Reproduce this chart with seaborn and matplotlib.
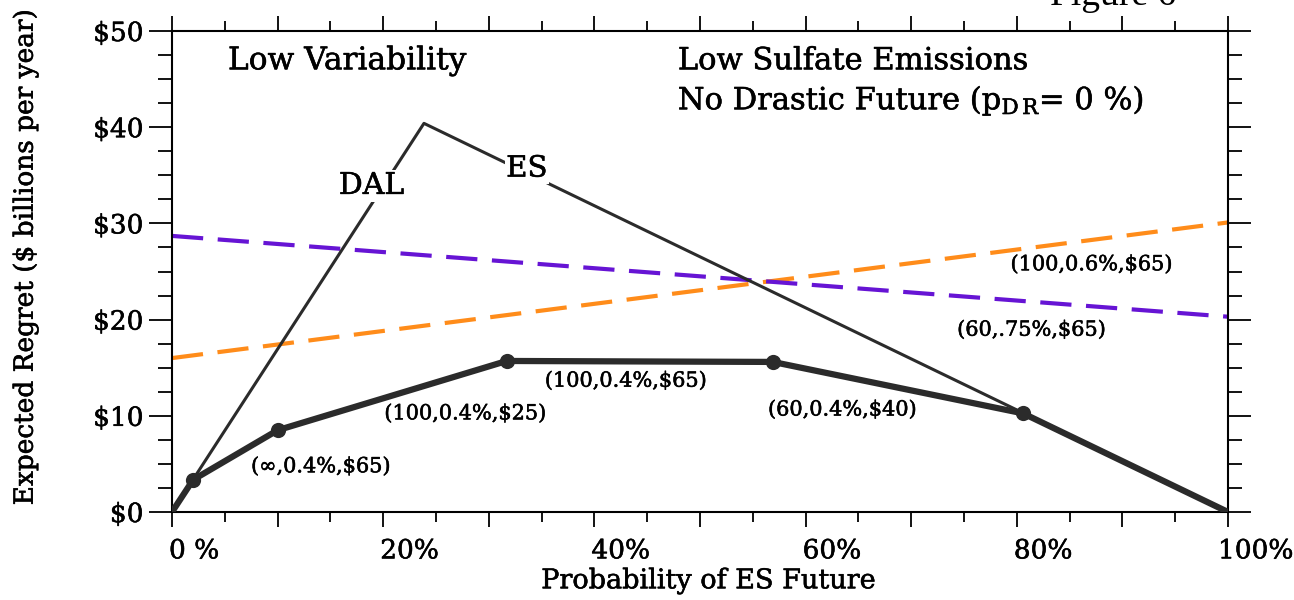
import numpy as np
import pandas as pd
import seaborn as sns
import matplotlib
matplotlib.use("Agg")
import matplotlib.pyplot as plt
import matplotlib.patheffects as pe
from matplotlib.ticker import FixedLocator, MultipleLocator
from matplotlib.transforms import ScaledTranslation

# ---------------- data ----------------
# thin "DAL / ES" regret triangle
tri_p = [0.0, 0.2386, 1.0]
tri_v = [0.0, 40.4, 0.0]

# thick optimal strategy curve (with markers on interior points)
opt_p = [0.0, 0.02, 0.10, 0.317, 0.569, 0.806, 1.0]
opt_v = [0.0, 3.35, 8.5, 15.7, 15.6, 10.25, 0.0]
mark_p = [0.02, 0.10, 0.317, 0.569, 0.806]
mark_v = [3.35, 8.5, 15.7, 15.6, 10.25]

# dashed strategies
purple_p = [0.0, 1.0]
purple_v = [28.7, 20.3]
orange_p = [0.0, 1.0]
orange_v = [16.0, 30.1]

x_ticks = [0.0, 0.1, 0.2, 0.3, 0.4, 0.5, 0.6, 0.7, 0.8, 0.9, 1.0]
x_labels = ["0 %", "", "20%", "", "40%", "", "60%", "", "80%", "", "100%"]
y_ticks = [0, 10, 20, 30, 40, 50]
y_labels = ["\\$0", "\\$10", "\\$20", "\\$30", "\\$40", "\\$50"]

strategy_labels = ["(\u221e,0.4%,\\$65)", "(100,0.4%,\\$25)", "(100,0.4%,\\$65)",
                   "(60,0.4%,\\$40)", "(100,0.6%,\\$65)", "(60,.75%,\\$65)"]
strategy_label_pos = [(0.141, 4.7), (0.278, 10.2), (0.430, 13.6),
                      (0.635, 10.6), (0.871, 25.7), (0.814, 18.9)]

# ---------------- style ----------------
sns.set_theme(style="white")
plt.rcParams["font.family"] = ["DejaVu Serif"]
plt.rcParams["mathtext.fontset"] = "dejavuserif"

fig = plt.figure(figsize=(12.94, 6.0), dpi=100)
ax = fig.add_axes([172 / 1294, 88 / 600, 1056 / 1294, 481 / 600])

dark = "#2b2b2b"
purple = "#6614d4"
orange = "#ff8c1a"
heavy = [pe.withStroke(linewidth=0.4, foreground="black")]

sns.lineplot(x=orange_p, y=orange_v, ax=ax, color=orange, lw=3.0,
             dashes=False, zorder=2)
ax.lines[-1].set_dashes([7.5, 3.5])
sns.lineplot(x=purple_p, y=purple_v, ax=ax, color=purple, lw=3.0,
             dashes=False, zorder=2)
ax.lines[-1].set_dashes([7.5, 3.5])
sns.lineplot(x=tri_p, y=tri_v, ax=ax, color=dark, lw=2.2, sort=False,
             estimator=None, zorder=3)
sns.lineplot(x=opt_p, y=opt_v, ax=ax, color=dark, lw=4.5, sort=False,
             estimator=None, zorder=4, solid_capstyle="round")
sns.scatterplot(x=mark_p, y=mark_v, ax=ax, color=dark, s=120,
                edgecolor=dark, linewidth=0, zorder=5)

ax.set_xlim(0, 1)
ax.set_ylim(0, 50)

# ticks
ax.xaxis.set_major_locator(FixedLocator(x_ticks))
ax.xaxis.set_minor_locator(MultipleLocator(0.05))
ax.yaxis.set_major_locator(FixedLocator(y_ticks))
ax.yaxis.set_minor_locator(MultipleLocator(2.5))
ax.set_xticklabels(x_labels)
ax.set_yticklabels(y_labels)

ax.tick_params(axis="both", which="both", direction="out", top=True,
               right=True, bottom=True, left=True, color="black", width=1.3,
               labelcolor="black")
ax.tick_params(axis="x", which="major", length=11, pad=8, labelsize=19)
ax.tick_params(axis="x", which="minor", length=7)
ax.tick_params(axis="y", which="major", length=16.5, pad=4, labelsize=19)
ax.tick_params(axis="y", which="minor", length=10)
xlabs = ax.get_xticklabels()
for i, lab in enumerate(xlabs):
    lab.set_ha("left")
    lab.set_path_effects(heavy)
    shift = -10 if i == len(xlabs) - 1 else -3
    lab.set_transform(lab.get_transform() +
                      ScaledTranslation(shift / 100, 0, fig.dpi_scale_trans))
for lab in ax.get_yticklabels():
    lab.set_path_effects(heavy)

for s in ax.spines.values():
    s.set_visible(True)
    s.set_color("black")
    s.set_linewidth(1.5)

ax.set_xlabel("Probability of ES Future", fontsize=19.5, color="black")
ax.set_ylabel("Expected Regret (\\$ billions per year)", fontsize=19,
              color="black")
ax.xaxis.set_label_coords(0.508, -0.143)
ax.xaxis.label.set_va("center")
ax.yaxis.set_label_coords(-0.139, 0.53)
ax.yaxis.label.set_va("center")
ax.xaxis.label.set_path_effects(heavy)
ax.yaxis.label.set_path_effects(heavy)

# titles inside plot
ax.text(0.053, 0.938, "Low Variability", transform=ax.transAxes,
        fontsize=22.5, va="center", ha="left", color="black",
        path_effects=heavy)
ax.text(0.479, 0.938, "Low Sulfate Emissions", transform=ax.transAxes,
        fontsize=22, va="center", ha="left", color="black",
        path_effects=heavy)
ax.text(0.479, 0.856, r"No Drastic Future ($\mathrm{p_{D\,R}}$= 0 %)",
        transform=ax.transAxes, fontsize=22, va="center", ha="left",
        color="black", path_effects=heavy)

# curve labels with white background to break the line
ax.text(0.189, 33.9, "DAL", fontsize=21.5, ha="center", va="center",
        color="black", zorder=6, path_effects=heavy,
        bbox=dict(facecolor="white", edgecolor="none", pad=1.5))
ax.text(0.336, 35.7, "ES", fontsize=21, ha="center", va="center",
        color="black", zorder=6, path_effects=heavy,
        bbox=dict(facecolor="white", edgecolor="none", pad=1.0))

for txt, (px, py) in zip(strategy_labels, strategy_label_pos):
    ax.text(px, py, txt, fontsize=15, ha="center", va="center",
            color="black", zorder=6, path_effects=heavy)

fig.text(1113 / 1294, 1 - 5 / 600, "Figure 6", fontsize=27,
         family="Liberation Serif", ha="center", va="baseline",
         color="black")

fig.savefig("out.png", dpi=100, facecolor="white")
